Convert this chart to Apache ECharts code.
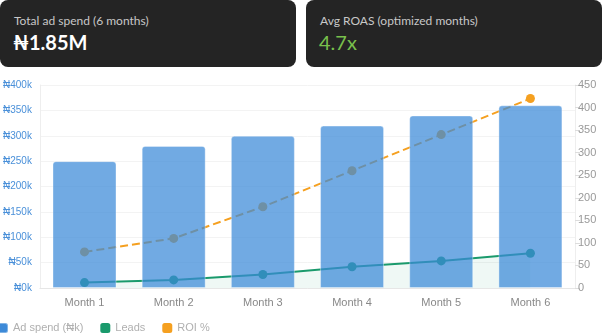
<!DOCTYPE html>
<html>
<head>
<meta charset="utf-8">
<script src="https://cdn.jsdelivr.net/npm/echarts@6/dist/echarts.min.js"></script>
<style>
  html, body { margin: 0; padding: 0; background: #fff; width: 602px; height: 334px; overflow: hidden; }
  #chart { position: absolute; left: 0; top: 0; width: 602px; height: 334px; }
  .card { position: absolute; top: 0; height: 67px; width: 296px; background: #242424; border-radius: 8px; font-family: Lato, "Noto Sans", sans-serif; z-index: 5; }
  .card .t { position: absolute; left: 14px; top: 13px; font-size: 12px; color: #c8c8c8; }
  .card .v { position: absolute; left: 13px; top: 30px; font-size: 20px; font-weight: 700; color: #fff; }
  #c1 { left: 0; }
  #c2 { left: 306px; }
  #c2 .v { color: #79c04c; font-weight: 400; }
</style>
</head>
<body>
<div id="chart"></div>
<div class="card" id="c1"><div class="t">Total ad spend (6 months)</div><div class="v">₦1.85M</div></div>
<div class="card" id="c2"><div class="t">Avg ROAS (optimized months)</div><div class="v">4.7x</div></div>
<script>
const months = ['Month 1', 'Month 2', 'Month 3', 'Month 4', 'Month 5', 'Month 6'];
const adSpend = [250, 280, 300, 320, 340, 360];
const leads = [12, 18, 30, 47, 60, 77];
const roi = [80, 110, 180, 260, 340, 420];

const chart = echarts.init(document.getElementById('chart'));
chart.setOption({
  animation: false,
  grid: { left: 38, right: 27, top: 85, bottom: 46 },
  legend: {
    left: -3, top: 322, padding: 0, itemWidth: 10, itemHeight: 10, itemGap: 17,
    icon: 'roundRect',
    textStyle: { color: '#b0b0b0', fontSize: 11 },
    data: [
      { name: 'Ad spend (₦k)', itemStyle: { color: '#3d8ad8' } },
      { name: 'Leads' },
      { name: 'ROI %' }
    ]
  },
  xAxis: {
    type: 'category', data: months,
    axisLine: { lineStyle: { color: '#e6e6e6' } },
    axisTick: { show: false },
    axisLabel: { color: '#888', fontSize: 11, margin: 9 }
  },
  yAxis: [
    {
      type: 'value', min: 0, max: 400, interval: 50,
      axisLine: { show: true, lineStyle: { color: '#eee' } },
      axisTick: { show: false },
      splitLine: { lineStyle: { color: '#f3f3f3' } },
      axisLabel: { color: '#4a90d9', fontSize: 10, margin: 8, formatter: v => '₦' + v + 'k' }
    },
    {
      type: 'value', min: 0, max: 450, interval: 50,
      axisLine: { show: true, lineStyle: { color: '#eee' } },
      axisTick: { show: true, length: 5, lineStyle: { color: '#ddd' } },
      splitLine: { show: false },
      axisLabel: { color: '#999', fontSize: 11, margin: 3 }
    }
  ],
  series: [
    {
      name: 'Ad spend (₦k)', type: 'bar', data: adSpend, yAxisIndex: 0,
      barWidth: 64, z: 3,
      itemStyle: { color: 'rgba(58,137,216,0.72)', borderRadius: [3, 3, 0, 0], borderColor: 'rgba(255,255,255,0.35)', borderWidth: 1 }
    },
    {
      name: 'Leads', type: 'line', data: leads, yAxisIndex: 1, z: 2,
      symbol: 'circle', symbolSize: 9,
      lineStyle: { color: '#1a9a6c', width: 2 },
      itemStyle: { color: '#1a9a6c' },
      areaStyle: { color: 'rgba(26,154,108,0.1)' }
    },
    {
      name: 'ROI %', type: 'line', data: roi, yAxisIndex: 1, z: 2,
      symbol: 'circle', symbolSize: 9,
      lineStyle: { color: '#f5a020', width: 2, type: 'dashed' },
      itemStyle: { color: '#f5a020' }
    }
  ]
});
</script>
</body>
</html>
